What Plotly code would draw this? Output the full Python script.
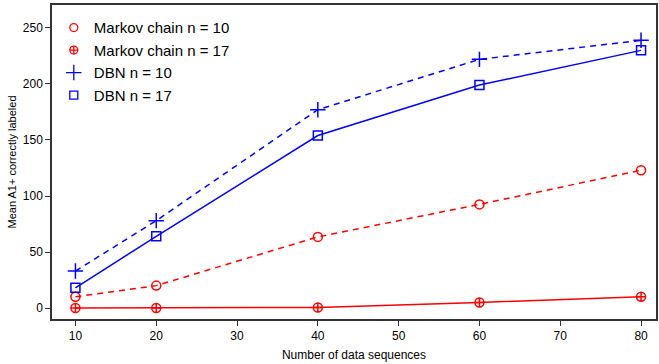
import plotly.graph_objects as go

x_vals = [10, 20, 40, 60, 80]
markov_10 = [10, 20, 63.5, 92.5, 123]
markov_17 = [0, 0, 0.5, 5, 10]
dbn_10 = [33, 78, 177, 222, 239]
dbn_17 = [18, 64, 154, 199, 230]

names = ["Markov chain n = 10", "Markov chain n = 17", "DBN n = 10", "DBN n = 17"]
series = [markov_10, markov_17, dbn_10, dbn_17]
colors = ["#ff0000", "#ff0000", "#0000ff", "#0000ff"]
symbols = ["circle-open", "circle-cross-open", "cross-thin-open", "square-open"]
dashes = ["6px,5px", "solid", "6px,5px", "solid"]
sizes = [9, 9, 11, 9]
leg_sizes = [8, 8, 11, 8]

fig = go.Figure()
for name, ys, c, s, d, sz in zip(names, series, colors, symbols, dashes, sizes):
    fig.add_trace(go.Scatter(
        x=x_vals, y=ys, mode="lines+markers", showlegend=False,
        line=dict(color=c, width=1.5, dash=d),
        marker=dict(symbol=s, size=sz, color=c, line=dict(width=1.5, color=c)),
    ))
for name, c, s, sz in zip(names, colors, symbols, leg_sizes):
    fig.add_trace(go.Scatter(
        x=[None], y=[None], mode="markers", name=name,
        marker=dict(symbol=s, size=sz, color=c, line=dict(width=1.3, color=c)),
    ))

font = "Liberation Sans, Arial, sans-serif"
fig.update_layout(
    width=659, height=364,
    margin=dict(l=52, r=1, t=5, b=45),
    plot_bgcolor="white", paper_bgcolor="white",
    font=dict(family=font, size=12, color="black"),
    legend=dict(x=0.003, y=0.98, xanchor="left", yanchor="top",
                font=dict(size=15, family=font), bgcolor="rgba(0,0,0,0)",
                tracegroupgap=0, itemwidth=30),
    xaxis=dict(range=[7.1, 81.85], tickvals=[10, 20, 30, 40, 50, 60, 70, 80],
               showgrid=False, zeroline=False, showline=True, linecolor="#333",
               linewidth=1.5, mirror=True, ticks="outside", ticklen=5,
               tickcolor="#333",
               title=dict(text="Number of data sequences", font=dict(size=12), standoff=8)),
    yaxis=dict(range=[-9.8, 270.5], tickvals=[0, 50, 100, 150, 200, 250],
               showgrid=False, zeroline=False, showline=True, linecolor="#333",
               linewidth=1.5, mirror=True, ticks="outside", ticklen=5,
               tickcolor="#333",
               title=dict(text="Mean A1+ correctly labeled", font=dict(size=11), standoff=4)),
)
fig.write_html("out.html")
